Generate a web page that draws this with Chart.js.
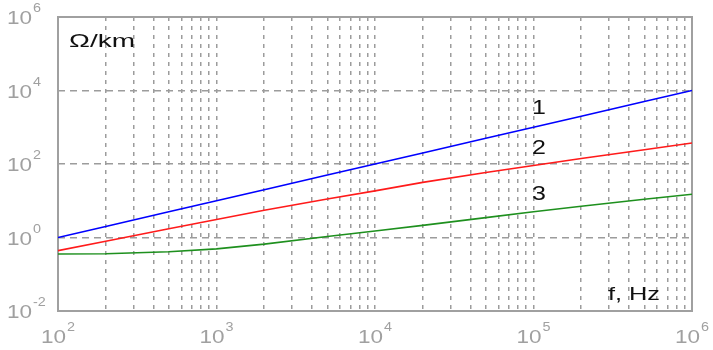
<!DOCTYPE html>
<html>
<head>
<meta charset="utf-8">
<script src="https://cdn.jsdelivr.net/npm/chart.js@4.4.1/dist/chart.umd.min.js"></script>
<style>
  html, body { margin: 0; padding: 0; background: #fff; }
  #wrap { width: 713px; height: 350px; }
</style>
</head>
<body>
<div id="wrap"><canvas id="c" width="713" height="350"></canvas></div>
<script>
// Resistance per km vs frequency, log-log, three curves.

const freqHz = [1e2, 2e2, 5e2, 1e3, 2e3, 5e3, 1e4, 2e4, 5e4, 1e5, 2e5, 5e5, 1e6];
const curve1 = [1, 2, 5, 10, 20, 50, 100, 200, 500, 1000, 2000, 5000, 10000];
const curve2 = [0.44, 0.79, 1.74, 3.1, 5.5, 11.2, 18.6, 31.6, 59, 91, 141, 245, 372];
const curve3 = [0.355, 0.36, 0.41, 0.49, 0.66, 1.07, 1.51, 2.14, 3.47, 5.0, 7.1, 11.0, 15.1];
const curveNames = ['1', '2', '3'];
const xDecades = [2, 3, 4, 5, 6];
const yDecades = [-2, 0, 2, 4, 6];
const yUnit = 'Ω/km';
const xUnit = 'f, Hz';

const lineColors = ['#0000ff', '#ff1a1a', '#1e901e'];
const gridColor = '#9c9c9c';
const labelGray = '#a0a0a0';
const FONT = '"Liberation Sans", Arial, sans-serif';

// every 1..9 x 10^k between the first and last decade
const xGridValues = [];
xDecades.forEach((d, i) => {
  if (i === xDecades.length - 1) { xGridValues.push(Math.pow(10, d)); return; }
  for (let m = 1; m <= 9; m++) xGridValues.push(m * Math.pow(10, d));
});
const yGridValues = yDecades.map(d => Math.pow(10, d));

function drawText(ctx, txt, x, y, size, sx, color, align, fitW) {
  ctx.save();
  ctx.font = size + 'px ' + FONT;
  ctx.fillStyle = color;
  ctx.textBaseline = 'alphabetic';
  const raw = ctx.measureText(txt).width;
  if (fitW) sx = fitW / raw;
  const w = raw * sx;
  const x0 = align === 'center' ? x - w / 2 : align === 'right' ? x - w : x;
  ctx.translate(x0, y);
  ctx.scale(sx, 1);
  ctx.fillText(txt, 0, 0);
  ctx.restore();
  return w;
}

function powWidth(ctx, exp) {
  ctx.save();
  ctx.font = '18px ' + FONT;
  const a = ctx.measureText('10').width * 1.25;
  ctx.font = '12px ' + FONT;
  const b = ctx.measureText(String(exp)).width * 1.2;
  ctx.restore();
  return a + 1 + b;
}

function drawPow(ctx, exp, x, base) {
  const w = drawText(ctx, '10', x, base, 18, 1.25, labelGray, 'left');
  drawText(ctx, String(exp), x + w + 1, base - 12, 12, 1.2, labelGray, 'left');
}

const frame = {
  id: 'frame',
  beforeDatasetsDraw(chart) {
    const { ctx, chartArea: a } = chart;
    ctx.save();
    ctx.strokeStyle = labelGray;
    ctx.lineWidth = 2;
    ctx.strokeRect(a.left, a.top, a.right - a.left, a.bottom - a.top);
    ctx.restore();
  },
  afterDraw(chart) {
    const { ctx, scales } = chart;
    yDecades.forEach(d => {
      const py = scales.y.getPixelForValue(Math.pow(10, d));
      drawPow(ctx, d, 7, py + 7);
    });
    xDecades.forEach(d => {
      const px = scales.x.getPixelForValue(Math.pow(10, d));
      const w = powWidth(ctx, d);
      drawPow(ctx, d, px - w / 2, 343);
    });
    drawText(ctx, yUnit, 69, 47, 19, 1, '#111', 'left', 66);
    drawText(ctx, xUnit, 608, 300, 18, 1, '#111', 'left', 52);
    const labelBase = [114, 154, 200];
    curveNames.forEach((n, i) => drawText(ctx, n, 532, labelBase[i], 20, 1.25, '#111', 'left'));
  },
};

new Chart(document.getElementById('c'), {
  type: 'line',
  data: {
    datasets: [curve1, curve2, curve3].map((vals, i) => ({
      label: curveNames[i],
      data: freqHz.map((f, j) => ({ x: f, y: vals[j] })),
      borderColor: lineColors[i],
      borderWidth: 1.6,
      pointRadius: 0,
      tension: 0,
      fill: false,
    })),
  },
  options: {
    responsive: false,
    animation: false,
    layout: { padding: { left: 58, top: 17, right: 21, bottom: 39 } },
    plugins: { legend: { display: false }, tooltip: { enabled: false } },
    scales: {
      x: {
        type: 'logarithmic',
        min: 1e2,
        max: 1e6,
        afterBuildTicks: s => { s.ticks = xGridValues.map(v => ({ value: v })); },
        ticks: { display: false },
        grid: { color: gridColor, lineWidth: 1.5, drawTicks: false },
        border: { display: false, dash: [4, 5] },
      },
      y: {
        type: 'logarithmic',
        min: 1e-2,
        max: 1e6,
        afterBuildTicks: s => { s.ticks = yGridValues.map(v => ({ value: v })); },
        ticks: { display: false },
        grid: { color: gridColor, lineWidth: 1.5, drawTicks: false },
        border: { display: false, dash: [7, 5] },
      },
    },
  },
  plugins: [frame],
});
</script>
</body>
</html>
